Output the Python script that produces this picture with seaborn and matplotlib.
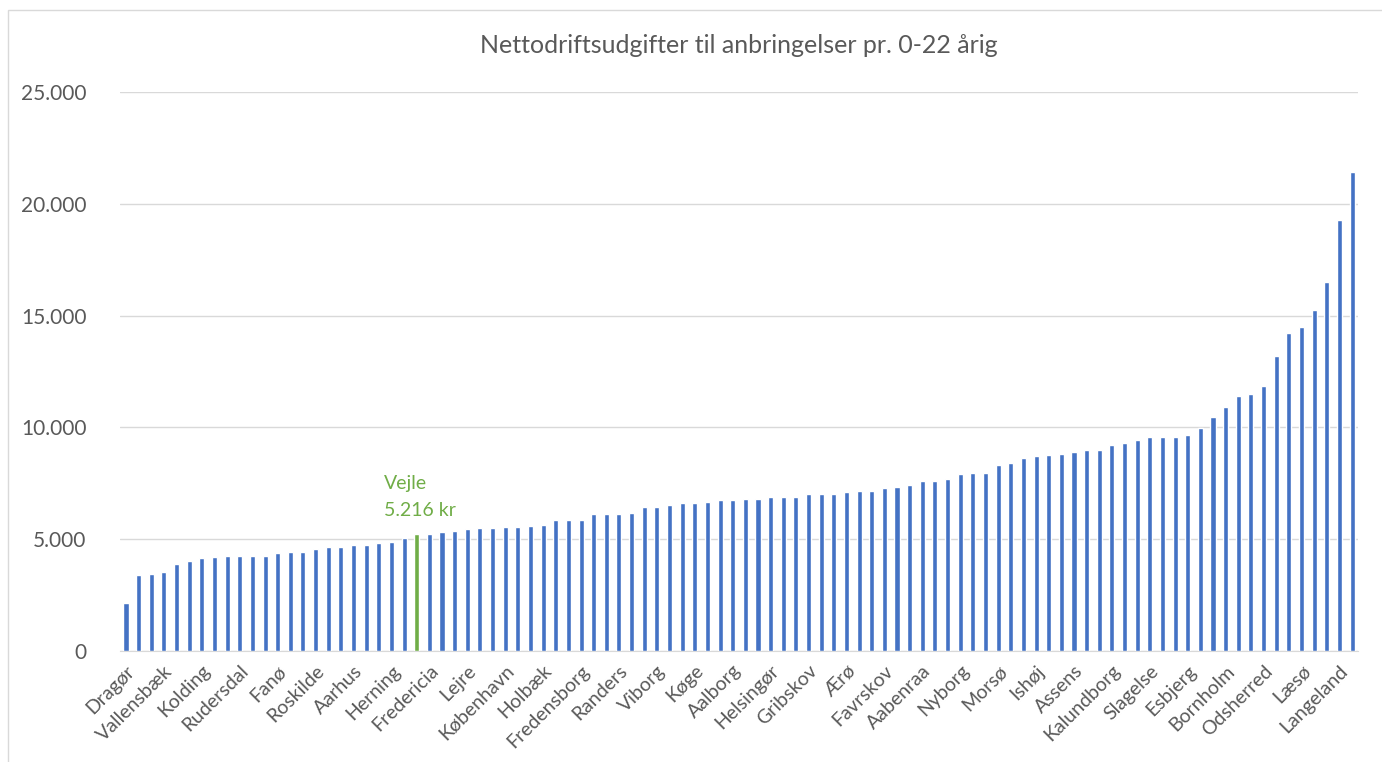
import numpy as np
import pandas as pd
import matplotlib
matplotlib.use("Agg")
import matplotlib.pyplot as plt
from matplotlib.ticker import FuncFormatter
from matplotlib.patches import Rectangle
import seaborn as sns

# --- Data (sorted ascending) ---
TITLE = "Nettodriftsudgifter til anbringelser pr. 0-22 årig"

values = [
    2160, 3390, 3460, 3530, 3890, 4010, 4150, 4190, 4260, 4260,
    4260, 4260, 4380, 4440, 4440, 4560, 4630, 4630, 4750, 4760,
    4810, 4870, 5060, 5216, 5250, 5300, 5370, 5440, 5490, 5500,
    5550, 5560, 5610, 5620, 5860, 5860, 5860, 6110, 6110, 6110,
    6180, 6420, 6430, 6550, 6610, 6610, 6670, 6730, 6740, 6790,
    6800, 6900, 6900, 6900, 7030, 7040, 7040, 7090, 7170, 7170,
    7270, 7350, 7410, 7590, 7590, 7710, 7900, 7970, 7970, 8330,
    8390, 8640, 8700, 8760, 8820, 8880, 9000, 9000, 9190, 9320,
    9430, 9560, 9570, 9570, 9680, 9970, 10480, 10920, 11420, 11480,
    11840, 13210, 14200, 14500, 15260, 16500, 19280, 21440,
]

# only every third municipality is named on the axis
tick_labels = [
    "Dragør", "Vallensbæk", "Kolding", "Rudersdal", "Fanø", "Roskilde",
    "Aarhus", "Herning", "Fredericia", "Lejre", "København", "Holbæk",
    "Fredensborg", "Randers", "Viborg", "Køge", "Aalborg", "Helsingør",
    "Gribskov", "Ærø", "Favrskov", "Aabenraa", "Nyborg", "Morsø",
    "Ishøj", "Assens", "Kalundborg", "Slagelse", "Esbjerg", "Bornholm",
    "Odsherred", "Læsø", "Langeland",
]

highlight_name = "Vejle"
highlight_pos = 23

BLUE = "#4472C4"
GREEN = "#70AD47"
GREY = "#595959"
GRID = "#D9D9D9"


def fmt_thousands(v, _pos=None):
    return f"{int(v):,}".replace(",", ".")


def main():
    df = pd.DataFrame({"pos": np.arange(len(values)), "value": values})
    df["group"] = np.where(df["pos"] == highlight_pos, "highlight", "other")

    sns.set_style("white")
    plt.rcParams["font.family"] = ["Lato", "DejaVu Sans"]

    fig = plt.figure(figsize=(13.82, 7.62), dpi=100)
    ax = fig.add_axes([0.0866, 0.1457, 0.8963, 0.7336])

    sns.barplot(data=df, x="pos", y="value", hue="group",
                palette={"other": BLUE, "highlight": GREEN},
                saturation=1, width=0.4, legend=False, ax=ax, zorder=3)

    ax.set_ylim(0, 25000)
    ax.set_xlim(-0.5, len(values) - 0.5)
    ax.set_yticks(range(0, 25001, 5000))
    ax.yaxis.set_major_formatter(FuncFormatter(fmt_thousands))
    ax.grid(axis="y", color=GRID, linewidth=1, zorder=0)

    ax.set_xticks(range(0, len(values), 3))
    ax.set_xticklabels(tick_labels, rotation=45, ha="right",
                       rotation_mode="anchor")
    ax.tick_params(axis="x", length=0, pad=8, labelsize=14, colors=GREY)
    ax.tick_params(axis="y", length=0, pad=24, labelsize=15, colors=GREY)
    ax.set_xlabel("")
    ax.set_ylabel("")

    for side in ["top", "right", "left"]:
        ax.spines[side].set_visible(False)
    ax.spines["bottom"].set_color(GRID)

    ax.set_title(TITLE, fontsize=18, color=GREY, pad=28)

    label = f"{highlight_name}\n{fmt_thousands(values[highlight_pos])} kr"
    ax.text(highlight_pos - 2.6, values[highlight_pos] + 700, label,
            color=GREEN, fontsize=14, ha="left", va="bottom",
            linespacing=1.7, zorder=4)

    # light chart-area border like the source
    fig.patches.append(Rectangle((8 / 1382, -0.01), 1.0, 0.997,
                                 transform=fig.transFigure, fill=False,
                                 edgecolor=GRID, linewidth=1))

    fig.savefig("out.png", dpi=100, facecolor="white")


if __name__ == "__main__":
    main()
